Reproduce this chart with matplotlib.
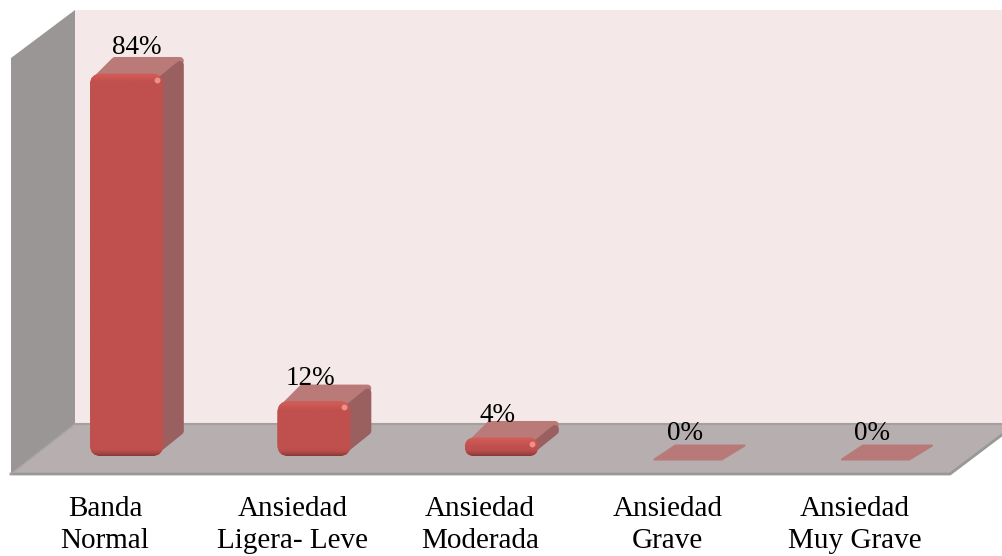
import numpy as np
import matplotlib
matplotlib.use("Agg")
import matplotlib.pyplot as plt
from matplotlib.patches import FancyBboxPatch, Polygon
from matplotlib.transforms import Affine2D

plt.rcParams["font.family"] = ["Liberation Serif", "DejaVu Serif"]

categories = ["Banda\nNormal", "Ansiedad\nLigera- Leve", "Ansiedad\nModerada",
              "Ansiedad\nGrave", "Ansiedad\nMuy Grave"]
values = [84, 12, 4, 0, 0]
value_labels = ["84%", "12%", "4%", "0%", "0%"]

W, H = 1003, 556
PX_X = 187.5   # pixels per category
PX_Y = 4.55    # pixels per percent
X0, Y0 = 126.5, 456  # pixel position of first bar, value 0
BAR_W = 73 / PX_X
DX, DY = 21 / PX_X, 17 / PX_Y
ASPECT = PX_X / PX_Y
INX, INY = 4 / PX_X, 4 / PX_Y  # inset of the rounded outlines

fig = plt.figure(figsize=(W / 100, H / 100), dpi=100)
ax = fig.add_axes([0, 0, 1, 1])
ax.set_xlim(-X0 / PX_X, (W - X0) / PX_X)
ax.set_ylim(-(H - Y0) / PX_Y, Y0 / PX_Y)
ax.axis("off")

# chart frame, in image pixels
pix = Affine2D().scale(1, -1).translate(0, H)


def frame(pts, fc, ec="none", lw=0, z=1):
    ax.add_patch(Polygon(pts, closed=True, fc=fc, ec=ec, lw=lw, zorder=z, transform=pix))


frame([(75, 10), (1003, 10), (1003, 424), (75, 424)], "#f4e8e8")
frame([(11, 58), (75, 10), (75, 424), (11, 474)], "#9b9696")
frame([(11, 474), (75, 424), (1003, 424), (1003, 434), (950, 474)], "#b7afaf")
ax.plot([75, 1003], [424, 424], color="#a5a0a0", lw=1.5, transform=pix, zorder=2)
ax.plot([11, 950, 1003], [474, 474, 434], color="#9a9797", lw=2, transform=pix, zorder=2,
        solid_joinstyle="miter")
ax.plot([11, 75], [474, 424], color="#a9a5a5", lw=1, transform=pix, zorder=2)

# label nudges in pixels, from the bar's front centre and top edge
label_dx = [10.5, -4, -4, -4, -4]
label_dy = [20, 16, 16, 16.5, 16.5]

for i, v in enumerate(values):
    left, right = i - BAR_W / 2, i + BAR_W / 2
    if v == 0:
        # empty bar: only a flat pad on the floor
        low = -3.5 / PX_Y
        d = 0.82 * DY
        ax.add_patch(Polygon(
            [(left + 0.01, low), (right - 0.02, low), (right + DX - 0.01, low + d),
             (left + DX + 0.01, low + d)],
            closed=True, fc="#b87a78", ec="#b87a78", lw=1.5, joinstyle="round", zorder=3))
    else:
        ax.add_patch(Polygon(
            [(right - 2 * INX, v - INY), (left + 2 * INX, v - INY),
             (left + DX + INX, v + DY - INY), (right + DX - INX, v + DY - INY)],
            closed=True, fc="#b97a78", ec="#b97a78", lw=5.5, joinstyle="round", zorder=3))
        ax.add_patch(Polygon(
            [(right - INX, 2 * INY), (right - INX, v - 2 * INY),
             (right + DX - INX, v + DY - 2 * INY), (right + DX - INX, DY + 2 * INY)],
            closed=True, fc="#99605f", ec="#99605f", lw=5.5, joinstyle="round", zorder=3.2))

        # front face: rounded box filled with a bevel shading
        rad = min(11 / PX_X, v * PX_Y / 2 / PX_X)
        box = FancyBboxPatch((left + rad, rad * ASPECT), BAR_W - 2 * rad, v - 2 * rad * ASPECT,
                             boxstyle=f"round,pad={rad},rounding_size={rad}",
                             mutation_aspect=ASPECT, fc="#c0504d", ec="none", zorder=4)
        ax.add_patch(box)
        h_px = int(v * PX_Y)
        yy = np.arange(h_px) + 0.5
        top = np.clip(1 - (h_px - yy) / 9, 0, 1)
        bot = np.clip(1 - yy / 8, 0, 1)
        shade = np.zeros((h_px, 1, 3))
        base = np.array([0xc0, 0x50, 0x4d]) / 255
        light = np.array([0xd6, 0x5e, 0x5a]) / 255
        dark = np.array([0x80, 0x38, 0x36]) / 255
        for k in range(h_px):
            shade[k, 0] = base + (light - base) * top[k] + (dark - base) * bot[k] ** 2
        im = ax.imshow(shade, extent=(left, right, 0, v), origin="lower", aspect="auto",
                       zorder=4.5, interpolation="bilinear")
        im.set_clip_path(box)
        ax.scatter([right - 6 / PX_X], [v - 6 / PX_Y], s=18, c="#ee9089", lw=0, zorder=5)

    ax.annotate(value_labels[i], xy=(i, v), xytext=(label_dx[i] * 0.72, label_dy[i] * 0.72),
                textcoords="offset points", ha="center", va="baseline", fontsize=19.5,
                color="black", zorder=6)
    ax.annotate(categories[i], xy=(i, 0), xytext=(-21.5 * 0.72, -69 * 0.72),
                textcoords="offset points", ha="center", va="center", fontsize=21,
                color="black", linespacing=1.28, zorder=6)

ax.set_xlim(-X0 / PX_X, (W - X0) / PX_X)
ax.set_ylim(-(H - Y0) / PX_Y, Y0 / PX_Y)

fig.savefig("out.png", dpi=100, facecolor="white")
